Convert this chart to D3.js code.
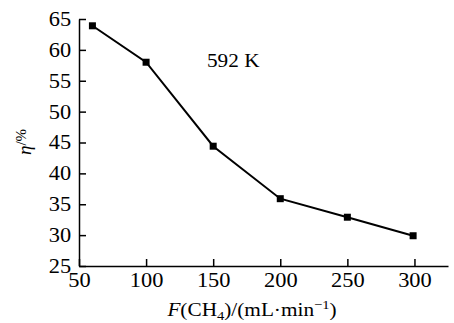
<!DOCTYPE html>
<html>
<head>
<meta charset="utf-8">
<script src="https://cdn.jsdelivr.net/npm/d3@7"></script>
<style>
  body { margin: 0; background: #fff; }
  svg { display: block; }
  .axis path, .axis line { stroke: #000; stroke-width: 1.5; }
</style>
</head>
<body>
<div id="chart"></div>
<script>
// flow rate of CH4 (mL/min) vs efficiency (%)
const flow = [60, 100, 150, 200, 250, 299];
const eta = [63.9, 58.0, 44.4, 35.9, 32.9, 29.9];
const xTicks = [50, 100, 150, 200, 250, 300];
const yTicks = [25, 30, 35, 40, 45, 50, 55, 60, 65];

const serif = "'Liberation Serif', 'Times New Roman', 'DejaVu Serif', serif";
const width = 454, height = 323;
const margin = {top: 19, right: 6, bottom: 57, left: 79};
const stretch = "scale(1.12,1)";  // the original type is a bit wide

const svg = d3.select("#chart").append("svg")
    .attr("width", width)
    .attr("height", height)
    .attr("font-family", serif);

const x = d3.scaleLinear()
    .domain([50, 325])
    .range([margin.left, width - margin.right]);

const y = d3.scaleLinear()
    .domain([25, 65])
    .range([height - margin.bottom, margin.top]);

// axes, ticks point inward
const gx = svg.append("g")
    .attr("class", "axis x")
    .attr("transform", "translate(0," + y(25) + ")")
    .call(d3.axisBottom(x).tickValues(xTicks).tickSizeInner(-7).tickSizeOuter(0));
gx.attr("font-family", serif).attr("font-size", 20);
gx.selectAll("text").attr("dy", "0.71em").attr("y", 7).attr("fill", "#000")
    .attr("transform", stretch);

const gy = svg.append("g")
    .attr("class", "axis y")
    .attr("transform", "translate(" + x(50) + ",0)")
    .call(d3.axisLeft(y).tickValues(yTicks).tickSizeInner(-7).tickSizeOuter(0));
gy.attr("font-family", serif).attr("font-size", 20);
gy.selectAll("text").attr("x", -7).attr("fill", "#000")
    .attr("transform", stretch);

const line = d3.line()
    .x(function(d, i) { return x(flow[i]); })
    .y(function(d) { return y(d); });

svg.append("path")
    .datum(eta)
    .attr("d", line)
    .attr("fill", "none")
    .attr("stroke", "#000")
    .attr("stroke-width", 2);

svg.selectAll("rect.pt")
    .data(eta)
  .enter().append("rect")
    .attr("class", "pt")
    .attr("x", function(d, i) { return x(flow[i]) - 3.5; })
    .attr("y", function(d) { return y(d) - 3.5; })
    .attr("width", 7)
    .attr("height", 7)
    .attr("fill", "#000");

// annotation
svg.append("g")
    .attr("transform", "translate(207,67) scale(1.18,1)")
  .append("text")
    .attr("font-size", 18)
    .text("592 K");

// y label
const yl = svg.append("text")
    .attr("transform", "translate(31,142) rotate(-90)")
    .attr("text-anchor", "middle")
    .attr("font-size", 19);
yl.append("tspan").attr("font-style", "italic").text("η");
yl.append("tspan").attr("dy", -5).attr("font-size", 15).text("/%");

// x label
const xl = svg.append("g")
    .attr("transform", "translate(252,316) scale(1.12,1)")
  .append("text")
    .attr("text-anchor", "middle")
    .attr("font-size", 19);
xl.append("tspan").attr("font-style", "italic").text("F");
xl.append("tspan").text("(CH");
xl.append("tspan").attr("dy", 4).attr("font-size", 13).text("4");
xl.append("tspan").attr("dy", -4).text(")/(mL·min");
xl.append("tspan").attr("dy", -7).attr("font-size", 13).text("−1");
xl.append("tspan").attr("dy", 7).text(")");
</script>
</body>
</html>
